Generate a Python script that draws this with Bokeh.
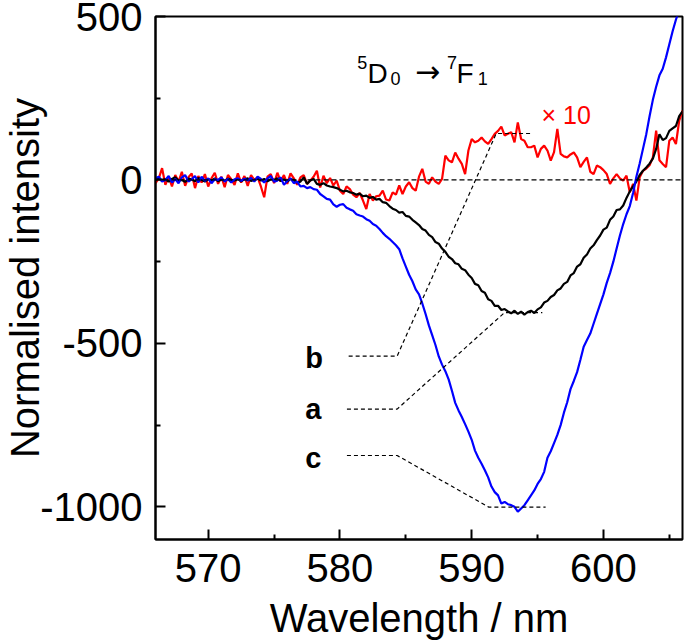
import numpy as np
from bokeh.plotting import figure
from bokeh.models import Label, Span, FixedTicker, Range1d
from bokeh.embed import file_html
from bokeh.resources import INLINE

# ---------------- data ----------------
wavelength = np.round(np.arange(566.0, 606.001, 0.25), 2)

# trace a (black)
intensity_a = [
    0, 5, -3, 2, -5, 3, 8, -2,
    0, -6, 4, 2, -4, 6, 0, -5,
    3, -2, 5, -4, 2, -3, 4, 0,
    -2, 3, -4, 2, 5, -3, 0, 4,
    -2, 3, -4, 2, 0, 5, -3, 2,
    -5, 3, 0, -8, -5, 8, -12, -2,
    3, -12, -15, -10, -17, -20, -22, -25,
    -30, -35, -33, -38, -40, -45, -42, -50,
    -48, -55, -52, -60, -58, -68, -70, -80,
    -88, -92, -100, -98, -110, -112, -122, -130,
    -138, -150, -155, -168, -175, -190, -195, -210,
    -220, -235, -242, -255, -258, -272, -276, -290,
    -300, -318, -322, -340, -345, -365, -370, -385,
    -385, -398, -395, -402, -408, -400, -410, -403,
    -412, -404, -400, -407, -396, -390, -375, -370,
    -358, -352, -338, -332, -318, -312, -292, -285,
    -265, -258, -238, -228, -210, -200, -184, -170,
    -152, -146, -122, -112, -92, -90, -78, -55,
    -35, -20, -5, 15, 28, 38, 50, 65,
    95, 140, 122, 128, 150, 158, 165, 195,
    210,
]

# trace b (red, x10)
intensity_b = [
    -10, 5, 36, -15, 10, -20, 15, -5,
    25, -18, 8, 20, -25, 12, -8, 18,
    -20, 5, 22, -12, 10, -22, 15, 2,
    -15, 20, -8, 12, -18, 15, 0, 8,
    -20, -53, 10, 18, -10, 22, -5, 15,
    -12, 20, 5, -15, 8, 15, -12, -2,
    10, 28, -23, 13, -10, 6, -17, -2,
    -33, -43, -20, -28, -45, -53, -40, -63,
    -89, -43, -63, -50, -48, -33, -60, -63,
    -38, -45, -17, -43, -20, -7, -25, -33,
    10, 34, -5, -12, 8, -5, -12, 3,
    74, 60, 54, 84, 65, 49, 18, 90,
    125, 115, 120, 130, 118, 110, 125, 141,
    150, 163, 136, 141, 146, 115, 176, 125,
    120, 100, 100, 105, 69, 95, 105, 90,
    59, 85, 156, 80, 72, 69, 78, 84,
    69, 39, 55, 69, 25, 18, 44, 39,
    30, 18, -12, 5, 18, 5, -2, 13,
    -38, -12, -63, 8, 28, 35, 45, 69,
    151, 60, 49, 39, 120, 130, 110, 181,
    212,
]

# trace c (blue)
intensity_c = [
    5, 10, -5, 0, 12, -8, 3, -10,
    8, 15, -5, 2, 12, -8, 10, -3,
    5, -10, 2, 0, 8, -5, 3, -8,
    2, 5, -3, 4, -2, 6, -5, 10,
    3, -8, 5, 12, -5, -2, 8, -15,
    -3, 5, -10, -5, -20, -18, -25, -22,
    -28, -30, -43, -50, -58, -60, -75, -82,
    -76, -74, -85, -90, -94, -105, -109, -112,
    -120, -125, -135, -140, -150, -162, -172, -180,
    -190, -200, -212, -240, -265, -290, -310, -335,
    -350, -378, -410, -445, -475, -505, -540, -565,
    -585, -610, -645, -682, -705, -725, -747, -770,
    -795, -828, -850, -868, -888, -910, -938, -955,
    -965, -990, -985, -992, -995, -1000, -1015, -1005,
    -995, -980, -965, -950, -930, -915, -893, -850,
    -830, -805, -780, -750, -712, -680, -640, -615,
    -588, -550, -510, -490, -470, -440, -410, -380,
    -350, -315, -285, -250, -210, -170, -135, -105,
    -80, -40, 10, 50, 95, 140, 195, 245,
    285, 320, 340, 375, 415, 455, 490, 520,
    560,
]

# leader lines (label -> trace)
leader_b_x = [580.66, 584.34, 591.86, 594.60]
leader_b_y = [-539, -539, 142, 142]
leader_a_x = [580.53, 584.34, 592.49, 595.36]
leader_a_y = [-701, -701, -406, -406]
leader_c_x = [580.53, 584.34, 591.30, 595.61]
leader_c_y = [-843, -843, -1001, -1001]

x_ticks = [570, 580, 590, 600]
x_minor_ticks = [575, 585, 595, 605]
y_ticks = [-1000, -500, 0, 500]
y_minor_ticks = [-750, -250, 250]

FONT = "Liberation Sans"

# ---------------- figure ----------------
p = figure(width=685, height=643,
           x_range=Range1d(566, 606), y_range=Range1d(-1100, 500),
           output_backend="svg", toolbar_location=None,
           min_border_left=155, min_border_right=3,
           min_border_top=16, min_border_bottom=104,
           x_axis_label="Wavelength / nm", y_axis_label="Normalised intensity")
p.grid.visible = False
p.background_fill_color = "white"
p.border_fill_color = "white"
p.outline_line_color = "black"
p.outline_line_width = 2
p.outline_line_alpha = 1

for ax in (p.xaxis[0], p.yaxis[0]):
    ax.axis_line_width = 2
    ax.axis_line_color = "black"
    ax.major_tick_in = 10
    ax.major_tick_out = 0
    ax.minor_tick_in = 5
    ax.minor_tick_out = 0
    ax.major_tick_line_width = 2
    ax.minor_tick_line_width = 2
    ax.major_tick_line_color = "black"
    ax.minor_tick_line_color = "black"
    ax.major_label_text_font = FONT
    ax.major_label_text_font_size = "40px"
    ax.major_label_text_color = "black"
    ax.axis_label_text_font = FONT
    ax.axis_label_text_font_size = "40px"
    ax.axis_label_text_font_style = "normal"
    ax.axis_label_text_color = "black"

p.xaxis.ticker = FixedTicker(ticks=x_ticks, minor_ticks=x_minor_ticks)
p.yaxis.ticker = FixedTicker(ticks=y_ticks, minor_ticks=y_minor_ticks)
p.xaxis.major_label_standoff = 14
p.yaxis.major_label_standoff = 13
p.xaxis.axis_label_standoff = 11
p.yaxis.axis_label_standoff = -10
p.yaxis.major_label_overrides = {t: str(t) for t in y_ticks}

# zero line
p.add_layout(Span(location=0, dimension="width", line_color="black",
                  line_width=1.3, line_dash="5 3"))

# traces
p.line(wavelength, intensity_b, line_color="#ff0000", line_width=2.2)
p.line(wavelength, intensity_a, line_color="black", line_width=2.2)
p.line(wavelength, intensity_c, line_color="#0000ff", line_width=2.2)

# leader lines
for lx, ly in ((leader_b_x, leader_b_y), (leader_a_x, leader_a_y), (leader_c_x, leader_c_y)):
    p.line(lx, ly, line_color="black", line_width=1.2, line_dash="4 3")

def lab(x, y, t, size, color="black", style="normal", align="left",
        baseline="alphabetic", font=FONT):
    p.add_layout(Label(x=x, y=y, text=t, text_font=font, text_font_size=size,
                       text_color=color, text_font_style=style, text_align=align,
                       text_baseline=baseline))

# transition label 5D0 -> 7F1
lab(581.32, 359, "5", "18px")
lab(582.10, 325, "D", "28px")
lab(583.83, 310, "0", "18px")
lab(586.65, 333, "\u2192", "30px", align="center", font="DejaVu Sans")
lab(588.12, 359, "7", "18px")
lab(588.84, 325, "F", "28px")
lab(590.45, 310, "1", "18px")

# x10
lab(595.30, 200, "\u00d7 10", "25px", color="#ff0000")

# trace labels
lab(577.36, -546, "b", "29px", style="bold")
lab(577.36, -700, "a", "29px", style="bold")
lab(577.36, -851, "c", "29px", style="bold")

open("out.html", "w").write(file_html(p, INLINE))
